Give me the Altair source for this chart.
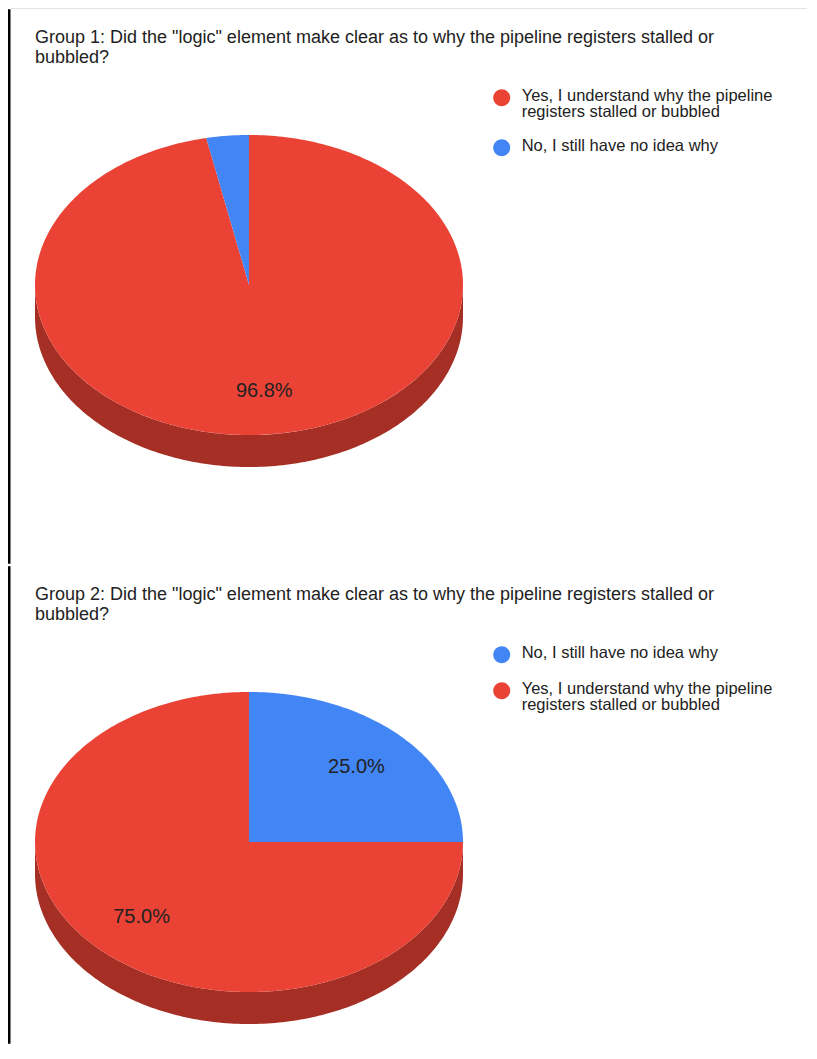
import math
import altair as alt
import pandas as pd

# ---------------- data ----------------
YES = "Yes, I understand why the pipeline\nregisters stalled or bubbled"
NO = "No, I still have no idea why"

titles = [
    'Group 1: Did the "logic" element make clear as to why the pipeline registers stalled or\nbubbled?',
    'Group 2: Did the "logic" element make clear as to why the pipeline registers stalled or\nbubbled?',
]
g1_categories = [YES, NO]
g1_values = [96.8, 3.2]
g2_categories = [NO, YES]
g2_values = [25.0, 75.0]

top_colors = {YES: "#ea4335", NO: "#4285f4"}
side_colors = {YES: "#a52f25", NO: "#2f62b8"}

FONT = "Liberation Sans"
DEPTH = 32 / 150.0          # thickness of the 3D rim, in radius units
XDOM = [-241 / 214.0, (800 - 241) / 214.0]
W = 800


def wedge_table(cats, vals, n=360):
    rows = []
    total = float(sum(vals))
    f0 = 0.0
    for c, v in zip(cats, vals):
        f1 = f0 + v / total
        k = max(2, int(math.ceil((f1 - f0) * n)))
        rows.append(dict(cat=c, i=0, x=0.0, y=0.0))
        for j in range(k + 1):
            a = 2 * math.pi * (f0 + (f1 - f0) * j / k)
            rows.append(dict(cat=c, i=j + 1, x=math.sin(a), y=math.cos(a)))
        f0 = f1
    return pd.DataFrame(rows)


def side_table(cats, vals, n=360):
    rows = []
    total = float(sum(vals))
    f0 = 0.0
    for c, v in zip(cats, vals):
        f1 = f0 + v / total
        a0, a1 = max(f0, 0.25), min(f1, 0.75)
        if a1 > a0:
            k = max(2, int(math.ceil((a1 - a0) * n)))
            pts = [a0 + (a1 - a0) * j / k for j in range(k + 1)]
            i = 0
            for f in pts:
                a = 2 * math.pi * f
                rows.append(dict(cat=c, i=i, x=math.sin(a), y=math.cos(a)))
                i += 1
            for f in reversed(pts):
                a = 2 * math.pi * f
                rows.append(dict(cat=c, i=i, x=math.sin(a), y=math.cos(a) - DEPTH))
                i += 1
        f0 = f1
    return pd.DataFrame(rows)


def label_table(cats, vals, r=0.71):
    rows = []
    total = float(sum(vals))
    f0 = 0.0
    for c, v in zip(cats, vals):
        frac = v / total
        fm = f0 + frac / 2
        if frac >= 0.05:
            a = 2 * math.pi * fm
            rows.append(dict(cat=c, x=r * math.sin(a), y=r * math.cos(a),
                             pct=f"{frac * 100:.1f}%"))
        f0 += frac
    return pd.DataFrame(rows)


def panel(title, cats, vals, height, top_line):
    ydom = [(277 - height) / 150.0, 277 / 150.0]
    x = alt.X("x:Q", scale=alt.Scale(domain=XDOM, nice=False, zero=False), axis=None)
    y = alt.Y("y:Q", scale=alt.Scale(domain=ydom, nice=False, zero=False), axis=None)

    side = alt.Chart(side_table(cats, vals)).mark_line(strokeWidth=0).encode(
        x=x, y=y, order=alt.Order("i:Q"),
        fill=alt.Fill("cat:N", scale=alt.Scale(domain=cats, range=[side_colors[c] for c in cats]),
                      legend=None),
    )
    top = alt.Chart(wedge_table(cats, vals)).mark_line(strokeWidth=0).encode(
        x=x, y=y, order=alt.Order("i:Q"),
        fill=alt.Fill(
            "cat:N",
            scale=alt.Scale(domain=cats, range=[top_colors[c] for c in cats]),
            legend=alt.Legend(
                title=None, orient="none", legendX=485.2, legendY=71.5,
                symbolType="M -1,1.15 A 1,1 0 1,0 1,1.15 A 1,1 0 1,0 -1,1.15 Z",
                symbolSize=289, symbolStrokeWidth=0,
                labelFont=FONT, labelFontSize=16.5, labelColor="#222222",
                labelBaseline="top", labelOffset=11.5, labelLimit=400,
                labelExpr="split(datum.label, '\\n')",
                rowPadding=9, padding=0,
            ),
        ),
    )
    pct = alt.Chart(label_table(cats, vals)).mark_text(
        font=FONT, fontSize=20, color="#222222"
    ).encode(x=x, y=y, text="pct:N")

    ttl = alt.Chart(pd.DataFrame({"t": [title]})).mark_text(
        align="left", baseline="top", lineBreak="\n", font=FONT, fontSize=18,
        lineHeight=20, color="#222222"
    ).encode(x=alt.value(27), y=alt.value(21), text="t:N")

    border = alt.Chart(pd.DataFrame({"a": [0]})).mark_rule(color="black", strokeWidth=2.5).encode(
        x=alt.value(1.25), y=alt.value(1.25), y2=alt.value(height - 1.25))
    layers = [side, top, pct, ttl, border]
    if top_line:
        gray = alt.Chart(pd.DataFrame({"a": [0]})).mark_rule(color="#e3e3e3", strokeWidth=1).encode(
            x=alt.value(3), x2=alt.value(W - 1), y=alt.value(0.5))
        layers.append(gray)
    return alt.layer(*layers).resolve_scale(fill="independent").properties(width=W, height=height)


p1 = panel(titles[0], g1_categories, g1_values, 557, True)
p2 = panel(titles[1], g2_categories, g2_values, 480, False)

chart = alt.vconcat(p1, p2, spacing=0).resolve_scale(
    x="independent", y="independent", fill="independent"
).resolve_legend(fill="independent").properties(padding=0).configure(
    style={"guide-label": {"lineHeight": 16}}
).configure_view(stroke=None)

chart.save("out.html", embed_options={"renderer": "svg", "actions": False})
